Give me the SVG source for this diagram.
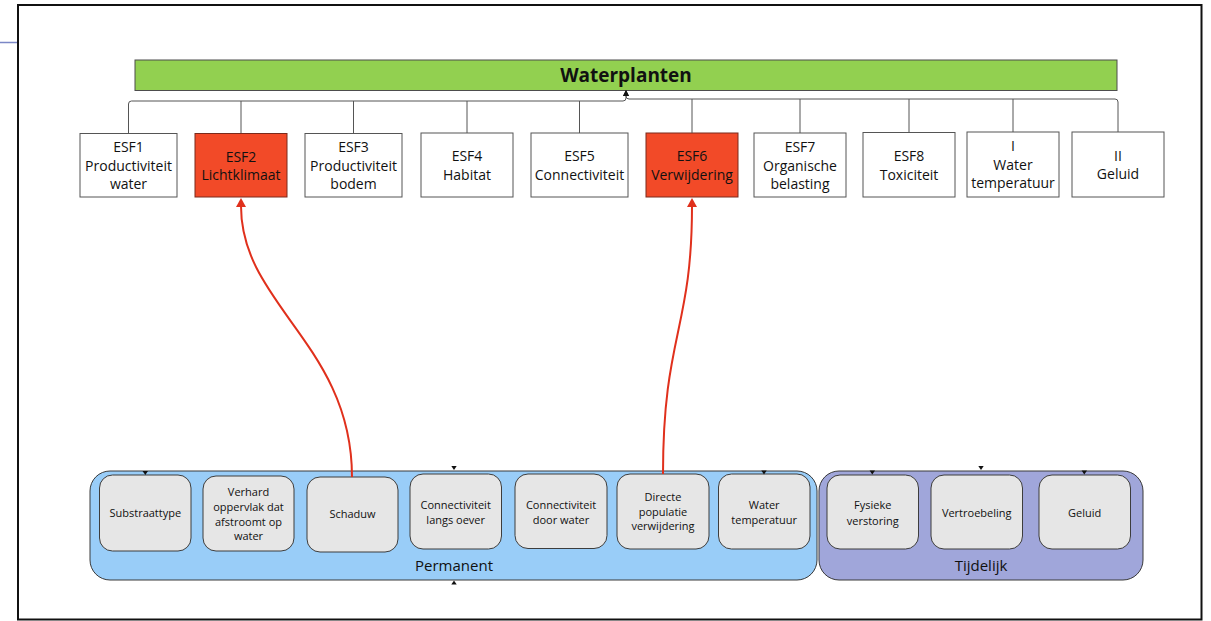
<svg xmlns="http://www.w3.org/2000/svg" width="1211" height="621" viewBox="0 0 1211 621">
  <style>
    .frame { fill: #ffffff; stroke: #111111; stroke-width: 2; }
    .head { fill: #92d050; stroke: #4d4d4d; stroke-width: 1; }
    .esf { fill: #ffffff; stroke: #555555; stroke-width: 1; }
    .hot { fill: #f24a28; stroke: #7a2a1c; stroke-width: 1; }
    .perm { fill: #99cdf8; stroke: #3a3a3a; stroke-width: 1; }
    .tijd { fill: #a0a6da; stroke: #3a3a3a; stroke-width: 1; }
    .sub { fill: #e6e6e6; stroke: #3d3d3d; stroke-width: 1; }
    .t14 { font-family: "Open Sans", "Noto Sans", sans-serif; font-size: 14px; fill: #111111; text-anchor: middle; }
    .t11 { font-family: "Open Sans", "Noto Sans", sans-serif; font-size: 11px; fill: #111111; text-anchor: middle; }
    .t15 { font-family: "Open Sans", "Noto Sans", sans-serif; font-size: 15px; fill: #111111; text-anchor: middle; }
    .title { font-family: "Open Sans", "Noto Sans", sans-serif; font-size: 19px; font-weight: bold; fill: #111111; text-anchor: middle; }
    .link { fill: none; stroke: #555555; stroke-width: 1; }
    .red { fill: none; stroke: #e0301c; stroke-width: 2; }
    .stub { fill: #111111; }
  </style>
  <defs>
    <marker id="tip" markerUnits="userSpaceOnUse" markerWidth="6" markerHeight="6" refX="5" refY="3" orient="auto">
      <path d="M0,0 L6,3 L0,6 z" fill="#111111"/>
    </marker>
    <marker id="redtip" markerUnits="userSpaceOnUse" markerWidth="10" markerHeight="10" refX="1" refY="5" orient="auto">
      <path d="M0,0 L9,5 L0,10 z" fill="#e0301c"/>
    </marker>
  </defs>

  <!-- page frame -->
  <line x1="0" y1="42.5" x2="18" y2="42.5" stroke="#7b87c6" stroke-width="1.5"/>
  <rect class="frame" x="18" y="5" width="1183.5" height="614.5"/>

  <!-- header -->
  <g id="waterplanten">
    <rect class="head" x="135" y="60" width="982" height="30.5"/>
    <text class="title" x="626" y="81.5">Waterplanten</text>
  </g>

  <!-- ecosystem functions -->
  <g id="esf1">
    <rect class="esf" x="80" y="133.5" width="97" height="63.5"/>
    <text class="t14" x="128.5" y="152">ESF1</text>
    <text class="t14" x="128.5" y="170.5">Productiviteit</text>
    <text class="t14" x="128.5" y="189">water</text>
  </g>
  <g id="esf2">
    <rect class="hot" x="195" y="133.5" width="92" height="63.5"/>
    <text class="t14" x="241" y="161.5">ESF2</text>
    <text class="t14" x="241" y="180">Lichtklimaat</text>
  </g>
  <g id="esf3">
    <rect class="esf" x="305" y="133.5" width="97" height="63.5"/>
    <text class="t14" x="353.5" y="152">ESF3</text>
    <text class="t14" x="353.5" y="170.5">Productiviteit</text>
    <text class="t14" x="353.5" y="189">bodem</text>
  </g>
  <g id="esf4">
    <rect class="esf" x="421" y="133" width="92" height="64"/>
    <text class="t14" x="467" y="161">ESF4</text>
    <text class="t14" x="467" y="179.5">Habitat</text>
  </g>
  <g id="esf5">
    <rect class="esf" x="531" y="133" width="97" height="64"/>
    <text class="t14" x="579.5" y="161">ESF5</text>
    <text class="t14" x="579.5" y="179.5">Connectiviteit</text>
  </g>
  <g id="esf6">
    <rect class="hot" x="646" y="133" width="92" height="64"/>
    <text class="t14" x="692" y="161">ESF6</text>
    <text class="t14" x="692" y="179.5">Verwijdering</text>
  </g>
  <g id="esf7">
    <rect class="esf" x="754" y="133" width="92" height="64"/>
    <text class="t14" x="800" y="152">ESF7</text>
    <text class="t14" x="800" y="170.5">Organische</text>
    <text class="t14" x="800" y="189">belasting</text>
  </g>
  <g id="esf8">
    <rect class="esf" x="863" y="132.5" width="92" height="64.5"/>
    <text class="t14" x="909" y="161">ESF8</text>
    <text class="t14" x="909" y="179.5">Toxiciteit</text>
  </g>
  <g id="esf-i">
    <rect class="esf" x="967" y="132" width="92" height="65"/>
    <text class="t14" x="1013" y="151">I</text>
    <text class="t14" x="1013" y="169.5">Water</text>
    <text class="t14" x="1013" y="188">temperatuur</text>
  </g>
  <g id="esf-ii">
    <rect class="esf" x="1072" y="132" width="92" height="65"/>
    <text class="t14" x="1118" y="160.5">II</text>
    <text class="t14" x="1118" y="179">Geluid</text>
  </g>

  <!-- permanent pressures -->
  <g id="permanent">
    <rect class="perm" x="90" y="471" width="727" height="109" rx="20"/>
    <text class="t15" x="454" y="571">Permanent</text>
  </g>
  <g id="substraattype">
    <rect class="sub" x="99.5" y="475" width="91.5" height="76" rx="13"/>
    <text class="t11" x="145.3" y="517">Substraattype</text>
  </g>
  <g id="verhard">
    <rect class="sub" x="203" y="476" width="91" height="75" rx="13"/>
    <text class="t11" x="248.5" y="495.5">Verhard</text>
    <text class="t11" x="248.5" y="510.5">oppervlak dat</text>
    <text class="t11" x="248.5" y="525.5">afstroomt op</text>
    <text class="t11" x="248.5" y="540">water</text>
  </g>
  <g id="schaduw">
    <rect class="sub" x="307" y="477" width="91" height="75" rx="13"/>
    <text class="t11" x="352.5" y="518">Schaduw</text>
  </g>
  <g id="connectiviteit-oever">
    <rect class="sub" x="410" y="474" width="91.5" height="75" rx="13"/>
    <text class="t11" x="455.7" y="509">Connectiviteit</text>
    <text class="t11" x="455.7" y="524">langs oever</text>
  </g>
  <g id="connectiviteit-water">
    <rect class="sub" x="515" y="474" width="92" height="74.5" rx="13"/>
    <text class="t11" x="561" y="509">Connectiviteit</text>
    <text class="t11" x="561" y="524">door water</text>
  </g>
  <g id="directe-verwijdering">
    <rect class="sub" x="617" y="474" width="92" height="75" rx="13"/>
    <text class="t11" x="663" y="500.5">Directe</text>
    <text class="t11" x="663" y="515.5">populatie</text>
    <text class="t11" x="663" y="530">verwijdering</text>
  </g>
  <g id="water-temperatuur">
    <rect class="sub" x="718.5" y="474" width="91.5" height="75" rx="13"/>
    <text class="t11" x="764.2" y="509">Water</text>
    <text class="t11" x="764.2" y="524">temperatuur</text>
  </g>

  <!-- temporary pressures -->
  <g id="tijdelijk">
    <rect class="tijd" x="819" y="471" width="324" height="109" rx="20"/>
    <text class="t15" x="981" y="571">Tijdelijk</text>
  </g>
  <g id="fysieke-verstoring">
    <rect class="sub" x="827" y="475" width="91.5" height="74" rx="13"/>
    <text class="t11" x="872.7" y="509">Fysieke</text>
    <text class="t11" x="872.7" y="524.5">verstoring</text>
  </g>
  <g id="vertroebeling">
    <rect class="sub" x="931" y="475" width="91.5" height="74" rx="13"/>
    <text class="t11" x="976.7" y="516.5">Vertroebeling</text>
  </g>
  <g id="geluid">
    <rect class="sub" x="1039" y="475" width="91.5" height="74" rx="13"/>
    <text class="t11" x="1084.7" y="516.5">Geluid</text>
  </g>

  <!-- connectors, drawn last so the stubs sit on top of the groups -->
  <g id="connectors">
    <path class="link" d="M128.5,133 V104 Q128.5,101 131.5,101 H623 Q626,101 626,98 V91" marker-end="url(#tip)"/>
    <path class="link" d="M241,133 V101"/>
    <path class="link" d="M353.5,133 V101"/>
    <path class="link" d="M467,133 V101"/>
    <path class="link" d="M579.5,133 V101"/>
    <path class="link" d="M1118,132 V102 Q1118,99 1115,99 H629 Q626,99 626,96 V91" marker-end="url(#tip)"/>
    <path class="link" d="M692,133 V99"/>
    <path class="link" d="M800,133 V99"/>
    <path class="link" d="M909,133 V99"/>
    <path class="link" d="M1013,132 V99"/>

    <path class="red" d="M352,477 C352,345 241,305 241,206" marker-end="url(#redtip)"/>
    <path class="red" d="M663,474 C663,335 692,330 692,206" marker-end="url(#redtip)"/>

    <!-- arrow stubs on the groups -->
    <path class="stub" d="M142.5,471 L148,471 L145.3,475 z"/>
    <path class="stub" d="M451.3,466 L456.7,466 L454,470 z"/>
    <path class="stub" d="M451.3,584.5 L456.7,584.5 L454,580.5 z"/>
    <path class="stub" d="M761.3,470.5 L766.7,470.5 L764,474.5 z"/>
    <path class="stub" d="M869.6,470.5 L875,470.5 L872.3,474.5 z"/>
    <path class="stub" d="M978.3,466 L983.7,466 L981,470 z"/>
    <path class="stub" d="M1081.6,470.5 L1087,470.5 L1084.3,474.5 z"/>
  </g>
</svg>
